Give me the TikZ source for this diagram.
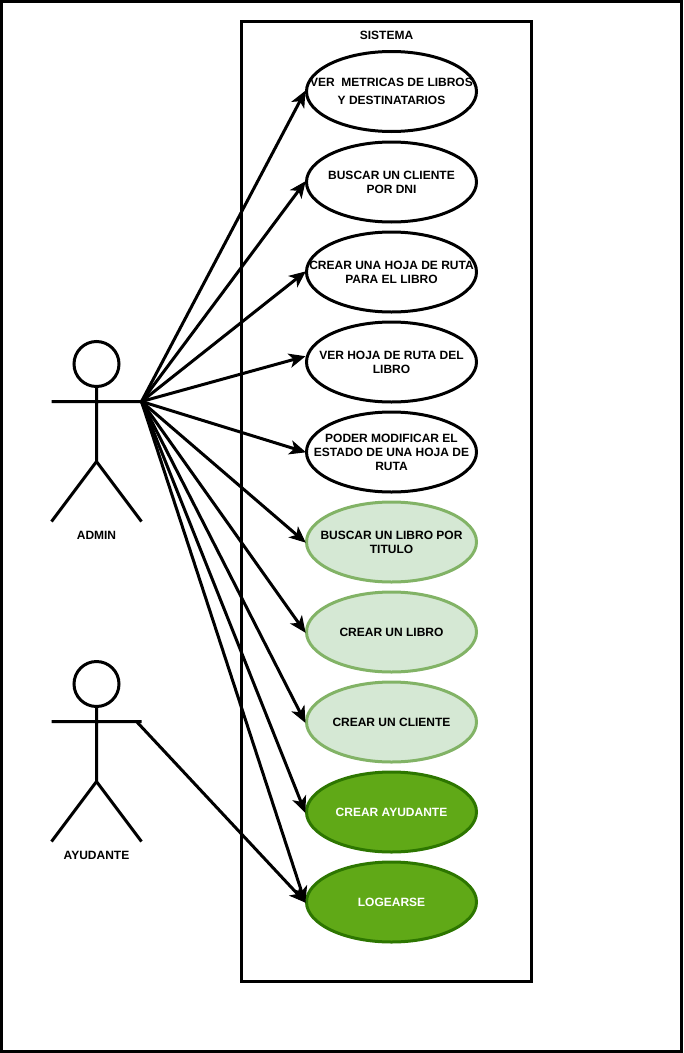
\documentclass[tikz,border=0pt]{standalone}
\usepackage{fontspec}
\setmainfont{Liberation Sans}
\usepackage{xcolor}
\usetikzlibrary{arrows.meta,shapes.geometric}
\definecolor{lightgreen}{HTML}{D5E8D4}
\definecolor{lightborder}{HTML}{82B366}
\definecolor{darkgreen}{HTML}{60A917}
\definecolor{darkborder}{HTML}{2D7600}
\tikzset{
	label text/.style={font=\fontsize{9}{10.5}\selectfont\bfseries, align=center},
	usecase/.style={draw, ellipse, line width=2.25pt, inner xsep=-30pt, inner ysep=-10pt, minimum width=127.5pt, minimum height=60pt, label text},
	usecase light/.style={usecase, draw=lightborder, fill=lightgreen},
	usecase dark/.style={usecase, draw=darkborder, fill=darkgreen, text=white},
	actor line/.style={line width=2.25pt},
	head/.style={draw, circle, line width=2.25pt, inner sep=0pt, minimum size=33.75pt},
}
\begin{document}
\begin{tikzpicture}[x=0.75pt,y=-0.75pt,>={Stealth[length=12.5pt,width=11pt,inset=3.5pt,line width=0.75pt]}]
	\useasboundingbox (0,0) rectangle (683,1053);
	\draw[line width=2.25pt] (1.5,1.5) rectangle (681.5,1051.5);
	\draw[line width=2.25pt] (241.5,21.5) rectangle (531.5,981.5);
	\node	(sistema) at (386.5,35) [label text] {SISTEMA};
	% casos de uso
	\node	(metricas) at (391.5,91.5) [usecase] {VER\ \ METRICAS DE LIBROS\\[3.2pt]Y DESTINATARIOS};
	\node	(cliente) at (391.5,182) [usecase] {BUSCAR UN CLIENTE\\POR DNI};
	\node	(crearhoja) at (391.5,272) [usecase] {CREAR UNA HOJA DE RUTA\\PARA EL LIBRO};
	\node	(verhoja) at (391.5,362) [usecase] {VER HOJA DE RUTA DEL\\LIBRO};
	\node	(estado) at (391.5,452) [usecase] {PODER MODIFICAR EL\\ESTADO DE UNA HOJA DE\\RUTA};
	\node	(buscarlibro) at (391.5,542) [usecase light] {BUSCAR UN LIBRO POR\\TITULO};
	\node	(crearlibro) at (391.5,632) [usecase light] {CREAR UN LIBRO};
	\node	(crearcliente) at (391.5,722) [usecase light] {CREAR UN CLIENTE};
	\node	(crearayudante) at (391.5,812) [usecase dark] {CREAR AYUDANTE};
	\node	(logearse) at (391.5,902) [usecase dark] {LOGEARSE};
	% actores
	\node	(adminhead) at (96.5,364) [head] {};
	\coordinate (adminhip) at (96.5,461.5);
	\coordinate (adminl) at (51.5,401.5);
	\coordinate (adminr) at (141.5,401.5);
	\coordinate (adminfootl) at (51.5,521.5);
	\coordinate (adminfootr) at (141.5,521.5);
	\node	(admin) at (96.5,535) [label text] {ADMIN};
	\node	(ayudantehead) at (96.5,684) [head] {};
	\coordinate (ayudantehip) at (96.5,781.5);
	\coordinate (ayudantel) at (51.5,721.5);
	\coordinate (ayudanter) at (141.5,721.5);
	\coordinate (ayudantefootl) at (51.5,841.5);
	\coordinate (ayudantefootr) at (141.5,841.5);
	\coordinate (ayudantestart) at (136.5,721.5);
	\node	(ayudante) at (96.5,855) [label text] {AYUDANTE};
	\coordinate (verhojaend) at (304.5,356.5);
	\draw[actor line]
	(adminhead) -- (adminhip)
	(adminl) -- (adminr)
	(adminfootl) -- (adminhip) -- (adminfootr)
	(ayudantehead) -- (ayudantehip)
	(ayudantel) -- (ayudanter)
	(ayudantefootl) -- (ayudantehip) -- (ayudantefootr)
	;
	\draw[actor line, shorten >=-0.75pt]
	(adminr) edge[->] (metricas.west)
	(adminr) edge[->] (cliente.west)
	(adminr) edge[->] (crearhoja.west)
	(adminr) edge[->] (verhojaend)
	(adminr) edge[->] (estado.west)
	(adminr) edge[->] (buscarlibro.west)
	(adminr) edge[->] (crearlibro.west)
	(adminr) edge[->] (crearcliente.west)
	(adminr) edge[->] (crearayudante.west)
	(adminr) edge[->] (logearse.west)
	(ayudantestart) edge[->] (logearse.west)
	;
\end{tikzpicture}
\end{document}
